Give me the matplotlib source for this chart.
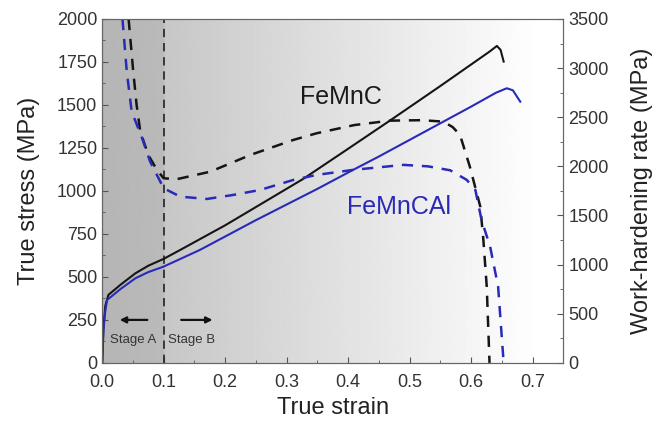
import matplotlib
matplotlib.use("Agg")
import matplotlib.pyplot as plt
from matplotlib.ticker import MultipleLocator
import numpy as np

plt.rcParams['font.family'] = ['Liberation Sans', 'DejaVu Sans']

# true stress curves (left axis)
strain_c = [0, 0.002, 0.005, 0.010, 0.03, 0.054, 0.075, 0.1, 0.127, 0.2, 0.273,
            0.327, 0.4, 0.468, 0.517, 0.55, 0.6, 0.63, 0.642, 0.648, 0.653]
stress_c = [0, 200, 330, 395, 455, 521, 565, 605, 657, 800, 955,
            1070, 1245, 1409, 1529, 1610, 1735, 1810, 1843, 1820, 1752]
strain_al = [0, 0.002, 0.005, 0.008, 0.03, 0.054, 0.075, 0.1, 0.159, 0.25, 0.349,
             0.408, 0.45, 0.555, 0.6, 0.64, 0.658, 0.668, 0.68]
stress_al = [0, 190, 300, 366, 430, 492, 528, 560, 657, 830, 1010,
             1122, 1200, 1403, 1490, 1570, 1597, 1585, 1519]

# work-hardening rate curves (right axis)
wh_strain_c = [0.043, 0.05, 0.056, 0.062, 0.075, 0.089, 0.1, 0.121, 0.176, 0.241, 0.311,
               0.349, 0.41, 0.468, 0.52, 0.555, 0.57, 0.582, 0.598, 0.615, 0.62, 0.6255, 0.630]
wh_c = [3500, 3000, 2625, 2353, 2116, 1964, 1879, 1869, 1946, 2116, 2269,
        2337, 2420, 2465, 2470, 2455, 2400, 2320, 1997, 1590, 1251, 776, 0]
wh_strain_al = [0.033, 0.040, 0.048, 0.065, 0.078, 0.1, 0.127, 0.170, 0.213, 0.257, 0.311,
                0.349, 0.408, 0.49, 0.53, 0.566, 0.593, 0.607, 0.617, 0.631, 0.644, 0.653]
wh_al = [3500, 2964, 2557, 2286, 2048, 1777, 1692, 1668, 1709, 1760, 1862,
         1913, 1964, 2015, 2000, 1960, 1862, 1760, 1455, 1183, 776, 0]

stage_x = 0.1
black = '#151515'
blue = '#2a2ab8'

fig = plt.figure(figsize=(6.55, 4.21), dpi=100)
ax = fig.add_axes([0.156, 0.138, 0.704, 0.817])
ax2 = ax.twinx()

# grey background, darker for stage A, fading to white
xs = np.linspace(0, 0.75, 400)
shade = np.where(xs < stage_x, 0.71 + 0.02 * xs / stage_x,
                 np.clip(0.78 + (xs - stage_x) * 0.36, 0, 1.0))
bg = np.tile(shade, (2, 1))
ax.imshow(bg, extent=[0, 0.75, 0, 2000], aspect='auto', cmap='gray',
          vmin=0, vmax=1, zorder=0, interpolation='bilinear')

ax.plot(strain_c, stress_c, color=black, lw=1.5, zorder=3)
ax.plot(strain_al, stress_al, color=blue, lw=1.5, zorder=3)
ax.axvline(stage_x, color='#222222', lw=1.2, ls=(0, (5, 3.5)), zorder=2)

ax2.plot(wh_strain_c, wh_c, color=black, lw=1.8, ls=(0, (4.5, 3.5)))
ax2.plot(wh_strain_al, wh_al, color=blue, lw=1.8, ls=(0, (4.5, 3.5)))

ax.set_xlim(0, 0.75)
ax.set_ylim(0, 2000)
ax2.set_ylim(0, 3500)

ax.xaxis.set_major_locator(MultipleLocator(0.1))
ax.xaxis.set_minor_locator(MultipleLocator(0.05))
ax.yaxis.set_major_locator(MultipleLocator(250))
ax.yaxis.set_minor_locator(MultipleLocator(125))
ax2.yaxis.set_major_locator(MultipleLocator(500))
ax2.yaxis.set_minor_locator(MultipleLocator(250))
ax.set_xticks(np.arange(0, 0.71, 0.1))
ax.set_xticklabels(['%.1f' % v for v in np.arange(0, 0.71, 0.1)])

for a in (ax, ax2):
    a.tick_params(which='both', direction='in', colors='#555555',
                  labelcolor='#333333', labelsize=13)
    a.tick_params(which='major', length=4)
    a.tick_params(which='minor', length=2.5)
    for s in a.spines.values():
        s.set_color('#666666')
ax.tick_params(axis='x', pad=8)

ax.set_xlabel('True strain', fontsize=17, color='#222222', labelpad=4)
ax.set_ylabel('True stress (MPa)', fontsize=17, color='#222222', labelpad=12)
ax2.set_ylabel('Work-hardening rate (MPa)', fontsize=17, color='#222222', labelpad=16)

ax.text(0.389, 1547, 'FeMnC', fontsize=18, color='#1a1a1a', ha='center', va='center', zorder=4)
ax.text(0.482, 907, 'FeMnCAl', fontsize=18, color=blue, ha='center', va='center', zorder=4)
ax.text(0.05, 134, 'Stage A', fontsize=9.5, color='#333333', ha='center', va='center', zorder=4)
ax.text(0.146, 134, 'Stage B', fontsize=9.5, color='#333333', ha='center', va='center', zorder=4)
ax.annotate('', xy=(0.024, 250), xytext=(0.078, 250),
            arrowprops=dict(arrowstyle='-|>', color='#111111', lw=1.6, mutation_scale=9), zorder=4)
ax.annotate('', xy=(0.184, 250), xytext=(0.124, 250),
            arrowprops=dict(arrowstyle='-|>', color='#111111', lw=1.6, mutation_scale=9), zorder=4)

fig.savefig('out.png', dpi=100)
